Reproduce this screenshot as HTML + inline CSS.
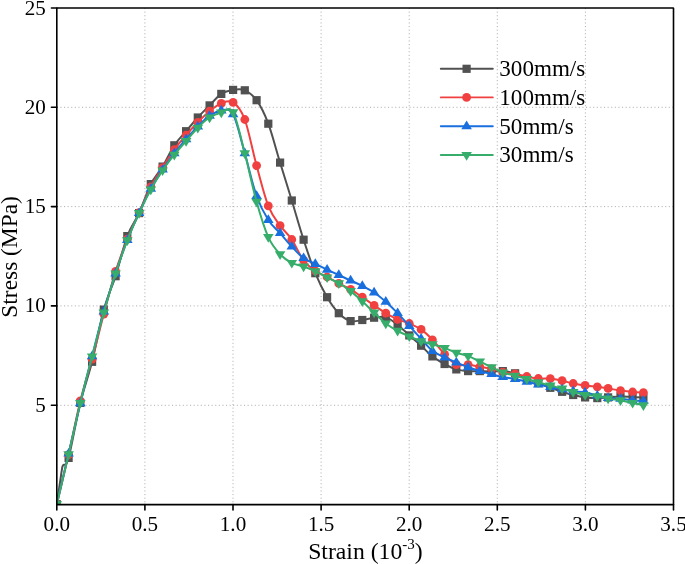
<!DOCTYPE html>
<html><head><meta charset="utf-8"><title>Stress-Strain</title>
<style>html,body{margin:0;padding:0;background:#fff}svg{display:block;will-change:transform}</style></head>
<body>
<svg width="685" height="564" viewBox="0 0 685 564" font-family="'Liberation Serif', serif" fill="#000">
<rect width="685" height="564" fill="#fff"/>
<g stroke="#a8a8a8" stroke-width="0.9" stroke-dasharray="1.1 2.5" fill="none">
<line x1="144.9" y1="8.0" x2="144.9" y2="504.6"/>
<line x1="233.0" y1="8.0" x2="233.0" y2="504.6"/>
<line x1="321.1" y1="8.0" x2="321.1" y2="504.6"/>
<line x1="409.2" y1="8.0" x2="409.2" y2="504.6"/>
<line x1="497.3" y1="8.0" x2="497.3" y2="504.6"/>
<line x1="585.4" y1="8.0" x2="585.4" y2="504.6"/>
<line x1="56.8" y1="405.3" x2="673.5" y2="405.3"/>
<line x1="56.8" y1="305.9" x2="673.5" y2="305.9"/>
<line x1="56.8" y1="206.6" x2="673.5" y2="206.6"/>
<line x1="56.8" y1="107.3" x2="673.5" y2="107.3"/>
</g>
<clipPath id="c"><rect x="56.8" y="8.0" width="616.7" height="496.7"/></clipPath>
<g clip-path="url(#c)">
<path d="M56.8,504.2 C57.2,501.2 58.6,492.1 59.4,486.3 C60.3,480.6 61.3,473.2 61.9,469.6 C62.5,466.1 62.0,467.2 63.1,465.3 C64.3,463.3 65.7,468.3 68.6,457.9 C71.4,447.5 76.4,418.9 80.3,402.9 C84.2,386.9 88.1,377.4 92.1,361.8 C96.0,346.2 99.9,323.8 103.8,309.6 C107.7,295.3 111.6,288.5 115.6,276.2 C119.5,264.0 123.4,246.6 127.3,236.1 C131.2,225.6 135.1,221.7 139.1,213.1 C143.0,204.4 146.9,191.8 150.8,184.1 C154.7,176.3 158.6,173.0 162.6,166.6 C166.5,160.1 170.4,151.2 174.3,145.3 C178.2,139.4 182.1,135.9 186.1,131.2 C190.0,126.6 193.9,121.8 197.8,117.5 C201.7,113.2 205.6,109.4 209.6,105.4 C213.5,101.5 217.4,96.5 221.3,93.9 C225.2,91.3 229.1,90.5 233.1,89.9 C237.0,89.3 240.9,88.6 244.8,90.3 C248.7,92.0 252.6,94.7 256.6,100.2 C260.5,105.8 264.4,113.3 268.3,123.7 C272.2,134.1 276.1,149.8 280.1,162.6 C284.0,175.4 287.9,187.7 291.8,200.5 C295.7,213.4 299.6,227.6 303.6,239.7 C307.5,251.8 311.4,263.6 315.3,273.2 C319.2,282.8 323.1,290.5 327.1,297.2 C331.0,303.8 334.9,309.3 338.8,313.2 C342.7,317.2 346.6,320.0 350.6,321.1 C354.5,322.2 358.4,320.6 362.3,320.0 C366.2,319.4 370.1,318.2 374.1,317.7 C378.0,317.2 381.9,316.0 385.8,317.1 C389.7,318.3 393.6,321.6 397.6,324.7 C401.5,327.7 405.4,331.9 409.3,335.4 C413.2,338.9 417.2,342.2 421.1,345.7 C424.9,349.2 428.5,353.4 432.4,356.4 C436.3,359.5 440.6,361.8 444.6,364.0 C448.5,366.1 452.4,368.2 456.3,369.4 C460.2,370.5 464.1,370.8 468.1,371.1 C472.0,371.4 475.9,371.1 479.8,371.1 C483.7,371.2 487.7,371.5 491.6,371.5 C495.4,371.5 498.9,370.8 502.8,371.1 C506.7,371.4 511.1,372.1 515.1,373.3 C519.1,374.6 523.0,377.1 526.8,378.7 C530.7,380.3 534.4,381.5 538.3,383.1 C542.2,384.6 546.4,386.4 550.3,387.8 C554.3,389.3 558.3,390.6 562.1,391.8 C565.9,393.0 569.4,394.0 573.2,395.0 C577.1,395.9 581.1,396.8 585.1,397.4 C589.1,397.9 593.5,398.1 597.3,398.1 C601.2,398.1 604.2,397.7 608.1,397.4 C611.9,397.1 616.4,396.4 620.5,396.4 C624.6,396.3 628.8,396.8 632.6,397.0 C636.4,397.2 641.6,397.5 643.4,397.6" fill="none" stroke="#515151" stroke-width="2" stroke-linejoin="round"/>
<rect x="52.7" y="500.1" width="8.2" height="8.2" fill="#515151"/>
<rect x="64.5" y="453.8" width="8.2" height="8.2" fill="#515151"/>
<rect x="76.2" y="398.8" width="8.2" height="8.2" fill="#515151"/>
<rect x="88.0" y="357.7" width="8.2" height="8.2" fill="#515151"/>
<rect x="99.7" y="305.5" width="8.2" height="8.2" fill="#515151"/>
<rect x="111.5" y="272.1" width="8.2" height="8.2" fill="#515151"/>
<rect x="123.2" y="232.0" width="8.2" height="8.2" fill="#515151"/>
<rect x="135.0" y="209.0" width="8.2" height="8.2" fill="#515151"/>
<rect x="146.7" y="180.0" width="8.2" height="8.2" fill="#515151"/>
<rect x="158.5" y="162.5" width="8.2" height="8.2" fill="#515151"/>
<rect x="170.2" y="141.2" width="8.2" height="8.2" fill="#515151"/>
<rect x="182.0" y="127.1" width="8.2" height="8.2" fill="#515151"/>
<rect x="193.7" y="113.4" width="8.2" height="8.2" fill="#515151"/>
<rect x="205.5" y="101.3" width="8.2" height="8.2" fill="#515151"/>
<rect x="217.2" y="89.8" width="8.2" height="8.2" fill="#515151"/>
<rect x="229.0" y="85.8" width="8.2" height="8.2" fill="#515151"/>
<rect x="240.7" y="86.2" width="8.2" height="8.2" fill="#515151"/>
<rect x="252.5" y="96.1" width="8.2" height="8.2" fill="#515151"/>
<rect x="264.2" y="119.6" width="8.2" height="8.2" fill="#515151"/>
<rect x="276.0" y="158.5" width="8.2" height="8.2" fill="#515151"/>
<rect x="287.7" y="196.4" width="8.2" height="8.2" fill="#515151"/>
<rect x="299.5" y="235.6" width="8.2" height="8.2" fill="#515151"/>
<rect x="311.2" y="269.1" width="8.2" height="8.2" fill="#515151"/>
<rect x="323.0" y="293.1" width="8.2" height="8.2" fill="#515151"/>
<rect x="334.7" y="309.1" width="8.2" height="8.2" fill="#515151"/>
<rect x="346.5" y="317.0" width="8.2" height="8.2" fill="#515151"/>
<rect x="358.2" y="315.9" width="8.2" height="8.2" fill="#515151"/>
<rect x="370.0" y="313.6" width="8.2" height="8.2" fill="#515151"/>
<rect x="381.7" y="313.0" width="8.2" height="8.2" fill="#515151"/>
<rect x="393.5" y="320.6" width="8.2" height="8.2" fill="#515151"/>
<rect x="405.2" y="331.3" width="8.2" height="8.2" fill="#515151"/>
<rect x="417.0" y="341.6" width="8.2" height="8.2" fill="#515151"/>
<rect x="428.3" y="352.3" width="8.2" height="8.2" fill="#515151"/>
<rect x="440.5" y="359.9" width="8.2" height="8.2" fill="#515151"/>
<rect x="452.2" y="365.3" width="8.2" height="8.2" fill="#515151"/>
<rect x="464.0" y="367.0" width="8.2" height="8.2" fill="#515151"/>
<rect x="475.7" y="367.0" width="8.2" height="8.2" fill="#515151"/>
<rect x="487.5" y="367.4" width="8.2" height="8.2" fill="#515151"/>
<rect x="498.7" y="367.0" width="8.2" height="8.2" fill="#515151"/>
<rect x="511.0" y="369.2" width="8.2" height="8.2" fill="#515151"/>
<rect x="522.7" y="374.6" width="8.2" height="8.2" fill="#515151"/>
<rect x="534.2" y="379.0" width="8.2" height="8.2" fill="#515151"/>
<rect x="546.2" y="383.7" width="8.2" height="8.2" fill="#515151"/>
<rect x="558.0" y="387.7" width="8.2" height="8.2" fill="#515151"/>
<rect x="569.1" y="390.9" width="8.2" height="8.2" fill="#515151"/>
<rect x="581.0" y="393.3" width="8.2" height="8.2" fill="#515151"/>
<rect x="593.2" y="394.0" width="8.2" height="8.2" fill="#515151"/>
<rect x="604.0" y="393.3" width="8.2" height="8.2" fill="#515151"/>
<rect x="616.4" y="392.3" width="8.2" height="8.2" fill="#515151"/>
<rect x="628.5" y="392.9" width="8.2" height="8.2" fill="#515151"/>
<rect x="639.3" y="393.5" width="8.2" height="8.2" fill="#515151"/>
<path d="M56.8,504.2 C58.8,495.9 64.6,471.8 68.6,454.6 C72.5,437.3 76.4,416.8 80.3,400.9 C84.2,385.0 88.1,373.7 92.1,359.2 C96.0,344.8 99.9,328.8 103.8,314.1 C107.7,299.5 111.6,284.0 115.6,271.4 C119.5,258.9 123.4,248.9 127.3,239.1 C131.2,229.3 135.1,221.4 139.1,212.7 C143.0,203.9 146.9,194.4 150.8,186.8 C154.7,179.3 158.6,173.8 162.6,167.6 C166.5,161.4 170.4,155.1 174.3,149.7 C178.2,144.3 182.1,139.8 186.1,135.2 C190.0,130.6 193.9,126.3 197.8,122.3 C201.7,118.3 205.6,114.3 209.6,111.2 C213.5,108.0 217.4,104.9 221.3,103.4 C225.2,102.0 229.1,99.8 233.1,102.4 C237.0,105.1 240.9,109.0 244.8,119.5 C248.7,130.0 252.6,151.2 256.6,165.6 C260.5,180.0 264.4,195.9 268.3,205.9 C272.2,215.9 276.1,220.0 280.1,225.6 C284.0,231.2 287.9,233.7 291.8,239.5 C295.7,245.3 299.6,255.1 303.6,260.3 C307.5,265.5 311.4,268.1 315.3,270.8 C319.2,273.6 323.1,274.9 327.1,277.0 C331.0,279.1 334.9,281.3 338.8,283.4 C342.7,285.4 346.6,287.0 350.6,289.3 C354.5,291.6 358.4,294.4 362.3,297.1 C366.2,299.7 370.1,302.7 374.1,305.4 C378.0,308.1 381.9,310.8 385.8,313.1 C389.7,315.5 393.6,317.6 397.6,319.3 C401.5,321.0 405.4,321.8 409.3,323.5 C413.2,325.2 417.2,326.7 421.1,329.4 C424.9,332.1 428.5,335.6 432.4,339.8 C436.3,343.9 440.6,350.1 444.6,354.3 C448.5,358.4 452.4,362.9 456.3,364.6 C460.2,366.3 464.1,364.2 468.1,364.6 C472.0,364.9 475.9,366.1 479.8,366.8 C483.7,367.5 487.7,367.9 491.6,368.8 C495.4,369.6 498.9,371.3 502.8,372.1 C506.7,373.0 511.1,373.2 515.1,373.9 C519.1,374.6 523.0,375.7 526.8,376.5 C530.7,377.3 534.4,378.1 538.3,378.5 C542.2,378.9 546.4,378.3 550.3,378.7 C554.3,379.0 558.3,379.9 562.1,380.7 C565.9,381.5 569.4,382.7 573.2,383.5 C577.1,384.2 581.1,384.9 585.1,385.4 C589.1,386.0 593.5,386.3 597.3,386.8 C601.2,387.3 604.2,387.8 608.1,388.4 C611.9,389.0 616.4,390.0 620.5,390.6 C624.6,391.2 628.8,391.7 632.6,392.0 C636.4,392.3 641.6,392.5 643.4,392.6" fill="none" stroke="#F14040" stroke-width="2" stroke-linejoin="round"/>
<circle cx="56.8" cy="504.2" r="4.4" fill="#F14040"/>
<circle cx="68.6" cy="454.6" r="4.4" fill="#F14040"/>
<circle cx="80.3" cy="400.9" r="4.4" fill="#F14040"/>
<circle cx="92.1" cy="359.2" r="4.4" fill="#F14040"/>
<circle cx="103.8" cy="314.1" r="4.4" fill="#F14040"/>
<circle cx="115.6" cy="271.4" r="4.4" fill="#F14040"/>
<circle cx="127.3" cy="239.1" r="4.4" fill="#F14040"/>
<circle cx="139.1" cy="212.7" r="4.4" fill="#F14040"/>
<circle cx="150.8" cy="186.8" r="4.4" fill="#F14040"/>
<circle cx="162.6" cy="167.6" r="4.4" fill="#F14040"/>
<circle cx="174.3" cy="149.7" r="4.4" fill="#F14040"/>
<circle cx="186.1" cy="135.2" r="4.4" fill="#F14040"/>
<circle cx="197.8" cy="122.3" r="4.4" fill="#F14040"/>
<circle cx="209.6" cy="111.2" r="4.4" fill="#F14040"/>
<circle cx="221.3" cy="103.4" r="4.4" fill="#F14040"/>
<circle cx="233.1" cy="102.4" r="4.4" fill="#F14040"/>
<circle cx="244.8" cy="119.5" r="4.4" fill="#F14040"/>
<circle cx="256.6" cy="165.6" r="4.4" fill="#F14040"/>
<circle cx="268.3" cy="205.9" r="4.4" fill="#F14040"/>
<circle cx="280.1" cy="225.6" r="4.4" fill="#F14040"/>
<circle cx="291.8" cy="239.5" r="4.4" fill="#F14040"/>
<circle cx="303.6" cy="260.3" r="4.4" fill="#F14040"/>
<circle cx="315.3" cy="270.8" r="4.4" fill="#F14040"/>
<circle cx="327.1" cy="277.0" r="4.4" fill="#F14040"/>
<circle cx="338.8" cy="283.4" r="4.4" fill="#F14040"/>
<circle cx="350.6" cy="289.3" r="4.4" fill="#F14040"/>
<circle cx="362.3" cy="297.1" r="4.4" fill="#F14040"/>
<circle cx="374.1" cy="305.4" r="4.4" fill="#F14040"/>
<circle cx="385.8" cy="313.1" r="4.4" fill="#F14040"/>
<circle cx="397.6" cy="319.3" r="4.4" fill="#F14040"/>
<circle cx="409.3" cy="323.5" r="4.4" fill="#F14040"/>
<circle cx="421.1" cy="329.4" r="4.4" fill="#F14040"/>
<circle cx="432.4" cy="339.8" r="4.4" fill="#F14040"/>
<circle cx="444.6" cy="354.3" r="4.4" fill="#F14040"/>
<circle cx="456.3" cy="364.6" r="4.4" fill="#F14040"/>
<circle cx="468.1" cy="364.6" r="4.4" fill="#F14040"/>
<circle cx="479.8" cy="366.8" r="4.4" fill="#F14040"/>
<circle cx="491.6" cy="368.8" r="4.4" fill="#F14040"/>
<circle cx="502.8" cy="372.1" r="4.4" fill="#F14040"/>
<circle cx="515.1" cy="373.9" r="4.4" fill="#F14040"/>
<circle cx="526.8" cy="376.5" r="4.4" fill="#F14040"/>
<circle cx="538.3" cy="378.5" r="4.4" fill="#F14040"/>
<circle cx="550.3" cy="378.7" r="4.4" fill="#F14040"/>
<circle cx="562.1" cy="380.7" r="4.4" fill="#F14040"/>
<circle cx="573.2" cy="383.5" r="4.4" fill="#F14040"/>
<circle cx="585.1" cy="385.4" r="4.4" fill="#F14040"/>
<circle cx="597.3" cy="386.8" r="4.4" fill="#F14040"/>
<circle cx="608.1" cy="388.4" r="4.4" fill="#F14040"/>
<circle cx="620.5" cy="390.6" r="4.4" fill="#F14040"/>
<circle cx="632.6" cy="392.0" r="4.4" fill="#F14040"/>
<circle cx="643.4" cy="392.6" r="4.4" fill="#F14040"/>
<path d="M56.8,504.2 C58.8,495.8 64.6,470.4 68.6,453.6 C72.5,436.7 76.4,419.5 80.3,403.3 C84.2,387.1 88.1,371.5 92.1,356.2 C96.0,341.0 99.9,325.4 103.8,311.6 C107.7,297.8 111.6,285.3 115.6,273.4 C119.5,261.5 123.4,250.1 127.3,240.1 C131.2,230.0 135.1,221.6 139.1,213.1 C143.0,204.5 146.9,196.1 150.8,188.8 C154.7,181.6 158.6,175.5 162.6,169.6 C166.5,163.6 170.4,158.3 174.3,153.3 C178.2,148.2 182.1,143.6 186.1,139.2 C190.0,134.7 193.9,130.4 197.8,126.5 C201.7,122.6 205.6,118.4 209.6,115.7 C213.5,113.1 217.4,110.6 221.3,110.4 C225.2,110.1 229.1,107.2 233.1,114.3 C237.0,121.5 240.9,139.7 244.8,153.3 C248.7,166.9 252.6,184.9 256.6,196.0 C260.5,207.1 264.4,213.8 268.3,220.0 C272.2,226.2 276.1,228.7 280.1,233.1 C284.0,237.5 287.9,242.4 291.8,246.6 C295.7,250.8 299.6,255.3 303.6,258.1 C307.5,261.0 311.4,262.0 315.3,263.9 C319.2,265.8 323.1,267.8 327.1,269.7 C331.0,271.5 334.9,273.2 338.8,275.0 C342.7,276.8 346.6,278.7 350.6,280.5 C354.5,282.3 358.4,283.9 362.3,285.9 C366.2,287.9 370.1,289.8 374.1,292.5 C378.0,295.1 381.9,298.4 385.8,301.8 C389.7,305.3 393.6,309.1 397.6,313.1 C401.5,317.2 405.4,321.6 409.3,325.9 C413.2,330.1 417.2,334.6 421.1,338.8 C424.9,342.9 428.5,347.8 432.4,350.9 C436.3,354.0 440.6,355.5 444.6,357.4 C448.5,359.4 452.4,360.8 456.3,362.4 C460.2,364.0 464.1,365.7 468.1,367.2 C472.0,368.6 475.9,370.0 479.8,371.1 C483.7,372.3 487.7,373.1 491.6,374.1 C495.4,375.1 498.9,376.3 502.8,377.1 C506.7,377.9 511.1,378.1 515.1,378.9 C519.1,379.6 523.0,380.7 526.8,381.7 C530.7,382.6 534.4,383.6 538.3,384.4 C542.2,385.3 546.4,386.2 550.3,387.0 C554.3,387.8 558.3,388.5 562.1,389.2 C565.9,389.9 569.4,390.7 573.2,391.2 C577.1,391.7 581.1,391.7 585.1,392.4 C589.1,393.1 593.5,394.6 597.3,395.6 C601.2,396.5 604.2,397.6 608.1,398.1 C611.9,398.7 616.4,398.3 620.5,398.7 C624.6,399.1 628.8,400.2 632.6,400.5 C636.4,400.9 641.6,400.9 643.4,400.9" fill="none" stroke="#1A6FDF" stroke-width="2" stroke-linejoin="round"/>
<polygon points="56.8,498.5 62.1,507.2 51.5,507.2" fill="#1A6FDF"/>
<polygon points="68.6,447.9 73.9,456.6 63.3,456.6" fill="#1A6FDF"/>
<polygon points="80.3,397.6 85.6,406.3 75.0,406.3" fill="#1A6FDF"/>
<polygon points="92.1,350.5 97.4,359.2 86.8,359.2" fill="#1A6FDF"/>
<polygon points="103.8,305.9 109.1,314.6 98.5,314.6" fill="#1A6FDF"/>
<polygon points="115.6,267.7 120.9,276.4 110.3,276.4" fill="#1A6FDF"/>
<polygon points="127.3,234.4 132.6,243.1 122.0,243.1" fill="#1A6FDF"/>
<polygon points="139.1,207.4 144.4,216.1 133.8,216.1" fill="#1A6FDF"/>
<polygon points="150.8,183.1 156.1,191.8 145.5,191.8" fill="#1A6FDF"/>
<polygon points="162.6,163.9 167.9,172.6 157.3,172.6" fill="#1A6FDF"/>
<polygon points="174.3,147.6 179.6,156.3 169.0,156.3" fill="#1A6FDF"/>
<polygon points="186.1,133.5 191.4,142.2 180.8,142.2" fill="#1A6FDF"/>
<polygon points="197.8,120.8 203.1,129.5 192.5,129.5" fill="#1A6FDF"/>
<polygon points="209.6,110.0 214.9,118.7 204.3,118.7" fill="#1A6FDF"/>
<polygon points="221.3,104.7 226.6,113.4 216.0,113.4" fill="#1A6FDF"/>
<polygon points="233.1,108.6 238.4,117.3 227.8,117.3" fill="#1A6FDF"/>
<polygon points="244.8,147.6 250.1,156.3 239.5,156.3" fill="#1A6FDF"/>
<polygon points="256.6,190.3 261.9,199.0 251.3,199.0" fill="#1A6FDF"/>
<polygon points="268.3,214.3 273.6,223.0 263.0,223.0" fill="#1A6FDF"/>
<polygon points="280.1,227.4 285.4,236.1 274.8,236.1" fill="#1A6FDF"/>
<polygon points="291.8,240.9 297.1,249.6 286.5,249.6" fill="#1A6FDF"/>
<polygon points="303.6,252.4 308.9,261.1 298.3,261.1" fill="#1A6FDF"/>
<polygon points="315.3,258.2 320.6,266.9 310.0,266.9" fill="#1A6FDF"/>
<polygon points="327.1,264.0 332.4,272.7 321.8,272.7" fill="#1A6FDF"/>
<polygon points="338.8,269.3 344.1,278.0 333.5,278.0" fill="#1A6FDF"/>
<polygon points="350.6,274.8 355.9,283.5 345.3,283.5" fill="#1A6FDF"/>
<polygon points="362.3,280.2 367.6,288.9 357.0,288.9" fill="#1A6FDF"/>
<polygon points="374.1,286.8 379.4,295.5 368.8,295.5" fill="#1A6FDF"/>
<polygon points="385.8,296.1 391.1,304.8 380.5,304.8" fill="#1A6FDF"/>
<polygon points="397.6,307.4 402.9,316.1 392.3,316.1" fill="#1A6FDF"/>
<polygon points="409.3,320.2 414.6,328.9 404.0,328.9" fill="#1A6FDF"/>
<polygon points="421.1,333.1 426.4,341.8 415.8,341.8" fill="#1A6FDF"/>
<polygon points="432.4,345.2 437.7,353.9 427.1,353.9" fill="#1A6FDF"/>
<polygon points="444.6,351.7 449.9,360.4 439.3,360.4" fill="#1A6FDF"/>
<polygon points="456.3,356.7 461.6,365.4 451.0,365.4" fill="#1A6FDF"/>
<polygon points="468.1,361.5 473.4,370.2 462.8,370.2" fill="#1A6FDF"/>
<polygon points="479.8,365.4 485.1,374.1 474.5,374.1" fill="#1A6FDF"/>
<polygon points="491.6,368.4 496.9,377.1 486.3,377.1" fill="#1A6FDF"/>
<polygon points="502.8,371.4 508.1,380.1 497.5,380.1" fill="#1A6FDF"/>
<polygon points="515.1,373.2 520.4,381.9 509.8,381.9" fill="#1A6FDF"/>
<polygon points="526.8,376.0 532.1,384.7 521.5,384.7" fill="#1A6FDF"/>
<polygon points="538.3,378.7 543.6,387.4 533.0,387.4" fill="#1A6FDF"/>
<polygon points="550.3,381.3 555.6,390.0 545.0,390.0" fill="#1A6FDF"/>
<polygon points="562.1,383.5 567.4,392.2 556.8,392.2" fill="#1A6FDF"/>
<polygon points="573.2,385.5 578.5,394.2 567.9,394.2" fill="#1A6FDF"/>
<polygon points="585.1,386.7 590.4,395.4 579.8,395.4" fill="#1A6FDF"/>
<polygon points="597.3,389.9 602.6,398.6 592.0,398.6" fill="#1A6FDF"/>
<polygon points="608.1,392.4 613.4,401.1 602.8,401.1" fill="#1A6FDF"/>
<polygon points="620.5,393.0 625.8,401.7 615.2,401.7" fill="#1A6FDF"/>
<polygon points="632.6,394.8 637.9,403.5 627.3,403.5" fill="#1A6FDF"/>
<polygon points="643.4,395.2 648.7,403.9 638.1,403.9" fill="#1A6FDF"/>
<path d="M56.8,504.2 C58.8,495.9 64.6,471.0 68.6,454.2 C72.5,437.3 76.4,419.2 80.3,402.9 C84.2,386.6 88.1,371.5 92.1,356.4 C96.0,341.4 99.9,326.4 103.8,312.6 C107.7,298.7 111.6,285.5 115.6,273.4 C119.5,261.4 123.4,250.3 127.3,240.3 C131.2,230.2 135.1,221.5 139.1,213.1 C143.0,204.6 146.9,196.7 150.8,189.6 C154.7,182.5 158.6,176.2 162.6,170.4 C166.5,164.5 170.4,159.6 174.3,154.7 C178.2,149.8 182.1,145.5 186.1,141.0 C190.0,136.5 193.9,131.6 197.8,127.7 C201.7,123.7 205.6,120.0 209.6,117.5 C213.5,115.0 217.4,113.5 221.3,112.6 C225.2,111.7 229.1,105.4 233.1,112.2 C237.0,118.9 240.9,138.3 244.8,153.3 C248.7,168.2 252.6,187.8 256.6,201.7 C260.5,215.7 264.4,228.3 268.3,237.1 C272.2,245.8 276.1,249.9 280.1,254.2 C284.0,258.5 287.9,260.8 291.8,262.9 C295.7,265.0 299.6,265.1 303.6,266.5 C307.5,267.9 311.4,269.4 315.3,271.2 C319.2,273.1 323.1,275.4 327.1,277.4 C331.0,279.4 334.9,280.9 338.8,283.2 C342.7,285.4 346.6,288.1 350.6,291.1 C354.5,294.1 358.4,297.7 362.3,301.2 C366.2,304.8 370.1,308.8 374.1,312.6 C378.0,316.3 381.9,320.4 385.8,323.5 C389.7,326.5 393.6,328.7 397.6,330.8 C401.5,333.0 405.4,334.6 409.3,336.4 C413.2,338.1 417.2,340.0 421.1,341.3 C424.9,342.7 428.5,343.2 432.4,344.3 C436.3,345.4 440.6,346.5 444.6,347.9 C448.5,349.3 452.4,351.3 456.3,352.7 C460.2,354.0 464.1,354.6 468.1,356.0 C472.0,357.5 475.9,359.6 479.8,361.4 C483.7,363.3 487.7,365.3 491.6,367.2 C495.4,369.0 498.9,371.1 502.8,372.5 C506.7,374.0 511.1,374.6 515.1,375.7 C519.1,376.8 523.0,378.0 526.8,379.1 C530.7,380.2 534.4,381.2 538.3,382.3 C542.2,383.3 546.4,384.5 550.3,385.5 C554.3,386.6 558.3,387.5 562.1,388.6 C565.9,389.7 569.4,391.0 573.2,392.1 C577.1,393.1 581.1,394.2 585.1,394.9 C589.1,395.6 593.5,395.6 597.3,396.3 C601.2,396.9 604.2,397.9 608.1,398.5 C611.9,399.2 616.4,399.6 620.5,400.3 C624.6,401.1 628.8,402.1 632.6,402.9 C636.4,403.7 641.6,404.9 643.4,405.3" fill="none" stroke="#37AD6B" stroke-width="2" stroke-linejoin="round"/>
<polygon points="56.8,509.9 62.1,501.2 51.5,501.2" fill="#37AD6B"/>
<polygon points="68.6,459.9 73.9,451.2 63.3,451.2" fill="#37AD6B"/>
<polygon points="80.3,408.6 85.6,399.9 75.0,399.9" fill="#37AD6B"/>
<polygon points="92.1,362.1 97.4,353.4 86.8,353.4" fill="#37AD6B"/>
<polygon points="103.8,318.3 109.1,309.6 98.5,309.6" fill="#37AD6B"/>
<polygon points="115.6,279.1 120.9,270.4 110.3,270.4" fill="#37AD6B"/>
<polygon points="127.3,246.0 132.6,237.3 122.0,237.3" fill="#37AD6B"/>
<polygon points="139.1,218.8 144.4,210.1 133.8,210.1" fill="#37AD6B"/>
<polygon points="150.8,195.3 156.1,186.6 145.5,186.6" fill="#37AD6B"/>
<polygon points="162.6,176.1 167.9,167.4 157.3,167.4" fill="#37AD6B"/>
<polygon points="174.3,160.4 179.6,151.7 169.0,151.7" fill="#37AD6B"/>
<polygon points="186.1,146.7 191.4,138.0 180.8,138.0" fill="#37AD6B"/>
<polygon points="197.8,133.4 203.1,124.7 192.5,124.7" fill="#37AD6B"/>
<polygon points="209.6,123.2 214.9,114.5 204.3,114.5" fill="#37AD6B"/>
<polygon points="221.3,118.3 226.6,109.6 216.0,109.6" fill="#37AD6B"/>
<polygon points="233.1,117.9 238.4,109.2 227.8,109.2" fill="#37AD6B"/>
<polygon points="244.8,159.0 250.1,150.3 239.5,150.3" fill="#37AD6B"/>
<polygon points="256.6,207.4 261.9,198.7 251.3,198.7" fill="#37AD6B"/>
<polygon points="268.3,242.8 273.6,234.1 263.0,234.1" fill="#37AD6B"/>
<polygon points="280.1,259.9 285.4,251.2 274.8,251.2" fill="#37AD6B"/>
<polygon points="291.8,268.6 297.1,259.9 286.5,259.9" fill="#37AD6B"/>
<polygon points="303.6,272.2 308.9,263.5 298.3,263.5" fill="#37AD6B"/>
<polygon points="315.3,276.9 320.6,268.2 310.0,268.2" fill="#37AD6B"/>
<polygon points="327.1,283.1 332.4,274.4 321.8,274.4" fill="#37AD6B"/>
<polygon points="338.8,288.9 344.1,280.2 333.5,280.2" fill="#37AD6B"/>
<polygon points="350.6,296.8 355.9,288.1 345.3,288.1" fill="#37AD6B"/>
<polygon points="362.3,306.9 367.6,298.2 357.0,298.2" fill="#37AD6B"/>
<polygon points="374.1,318.3 379.4,309.6 368.8,309.6" fill="#37AD6B"/>
<polygon points="385.8,329.2 391.1,320.5 380.5,320.5" fill="#37AD6B"/>
<polygon points="397.6,336.5 402.9,327.8 392.3,327.8" fill="#37AD6B"/>
<polygon points="409.3,342.1 414.6,333.4 404.0,333.4" fill="#37AD6B"/>
<polygon points="421.1,347.0 426.4,338.3 415.8,338.3" fill="#37AD6B"/>
<polygon points="432.4,350.0 437.7,341.3 427.1,341.3" fill="#37AD6B"/>
<polygon points="444.6,353.6 449.9,344.9 439.3,344.9" fill="#37AD6B"/>
<polygon points="456.3,358.4 461.6,349.7 451.0,349.7" fill="#37AD6B"/>
<polygon points="468.1,361.7 473.4,353.0 462.8,353.0" fill="#37AD6B"/>
<polygon points="479.8,367.1 485.1,358.4 474.5,358.4" fill="#37AD6B"/>
<polygon points="491.6,372.9 496.9,364.2 486.3,364.2" fill="#37AD6B"/>
<polygon points="502.8,378.2 508.1,369.5 497.5,369.5" fill="#37AD6B"/>
<polygon points="515.1,381.4 520.4,372.7 509.8,372.7" fill="#37AD6B"/>
<polygon points="526.8,384.8 532.1,376.1 521.5,376.1" fill="#37AD6B"/>
<polygon points="538.3,388.0 543.6,379.3 533.0,379.3" fill="#37AD6B"/>
<polygon points="550.3,391.2 555.6,382.5 545.0,382.5" fill="#37AD6B"/>
<polygon points="562.1,394.3 567.4,385.6 556.8,385.6" fill="#37AD6B"/>
<polygon points="573.2,397.8 578.5,389.1 567.9,389.1" fill="#37AD6B"/>
<polygon points="585.1,400.6 590.4,391.9 579.8,391.9" fill="#37AD6B"/>
<polygon points="597.3,402.0 602.6,393.3 592.0,393.3" fill="#37AD6B"/>
<polygon points="608.1,404.2 613.4,395.5 602.8,395.5" fill="#37AD6B"/>
<polygon points="620.5,406.0 625.8,397.3 615.2,397.3" fill="#37AD6B"/>
<polygon points="632.6,408.6 637.9,399.9 627.3,399.9" fill="#37AD6B"/>
<polygon points="643.4,411.0 648.7,402.3 638.1,402.3" fill="#37AD6B"/>
</g>
<g stroke="#000" stroke-width="1.6" fill="none" stroke-linecap="round">
<rect x="56.80" y="7.95" width="616.70" height="496.65" stroke-linejoin="bevel"/>
<line x1="56.8" y1="504.6" x2="56.8" y2="510.0"/>
<line x1="144.9" y1="504.6" x2="144.9" y2="510.0"/>
<line x1="233.0" y1="504.6" x2="233.0" y2="510.0"/>
<line x1="321.1" y1="504.6" x2="321.1" y2="510.0"/>
<line x1="409.2" y1="504.6" x2="409.2" y2="510.0"/>
<line x1="497.3" y1="504.6" x2="497.3" y2="510.0"/>
<line x1="585.4" y1="504.6" x2="585.4" y2="510.0"/>
<line x1="673.5" y1="504.6" x2="673.5" y2="510.0"/>
<line x1="51.4" y1="405.3" x2="56.8" y2="405.3"/>
<line x1="51.4" y1="305.9" x2="56.8" y2="305.9"/>
<line x1="51.4" y1="206.6" x2="56.8" y2="206.6"/>
<line x1="51.4" y1="107.3" x2="56.8" y2="107.3"/>
<line x1="51.4" y1="8.0" x2="56.8" y2="8.0"/>
</g>
<g font-size="21.1">
<text x="56.8" y="531.1" text-anchor="middle">0.0</text>
<text x="144.9" y="531.1" text-anchor="middle">0.5</text>
<text x="233.0" y="531.1" text-anchor="middle">1.0</text>
<text x="321.1" y="531.1" text-anchor="middle">1.5</text>
<text x="409.2" y="531.1" text-anchor="middle">2.0</text>
<text x="497.3" y="531.1" text-anchor="middle">2.5</text>
<text x="585.4" y="531.1" text-anchor="middle">3.0</text>
<text x="673.5" y="531.1" text-anchor="middle">3.5</text>
<text x="45.9" y="411.8" text-anchor="end">5</text>
<text x="45.9" y="312.4" text-anchor="end">10</text>
<text x="45.9" y="213.1" text-anchor="end">15</text>
<text x="45.9" y="113.8" text-anchor="end">20</text>
<text x="45.9" y="14.5" text-anchor="end">25</text>
</g>
<text x="365.4" y="558.6" font-size="23.7" text-anchor="middle">Strain (10<tspan font-size="15" dy="-9.3">-3</tspan><tspan dy="9.3">)</tspan></text>
<text transform="translate(16.8 256.9) rotate(-90)" font-size="23.4" text-anchor="middle">Stress (MPa)</text>
<line x1="440.8" y1="68.8" x2="492.8" y2="68.8" stroke="#515151" stroke-width="1.9" stroke-linecap="round"/>
<rect x="462.5" y="64.7" width="8.2" height="8.2" fill="#515151"/>
<text x="499.3" y="76.2" font-size="23.1">300mm/s</text>
<line x1="440.8" y1="97.4" x2="492.8" y2="97.4" stroke="#F14040" stroke-width="1.9" stroke-linecap="round"/>
<circle cx="466.6" cy="97.4" r="4.4" fill="#F14040"/>
<text x="499.3" y="104.8" font-size="23.1">100mm/s</text>
<line x1="440.8" y1="126.2" x2="492.8" y2="126.2" stroke="#1A6FDF" stroke-width="1.9" stroke-linecap="round"/>
<polygon points="466.6,120.5 471.9,129.2 461.3,129.2" fill="#1A6FDF"/>
<text x="499.3" y="133.6" font-size="23.1">50mm/s</text>
<line x1="440.8" y1="155.0" x2="492.8" y2="155.0" stroke="#37AD6B" stroke-width="1.9" stroke-linecap="round"/>
<polygon points="466.6,160.7 471.9,152.0 461.3,152.0" fill="#37AD6B"/>
<text x="499.3" y="162.4" font-size="23.1">30mm/s</text>
</svg>
</body></html>
